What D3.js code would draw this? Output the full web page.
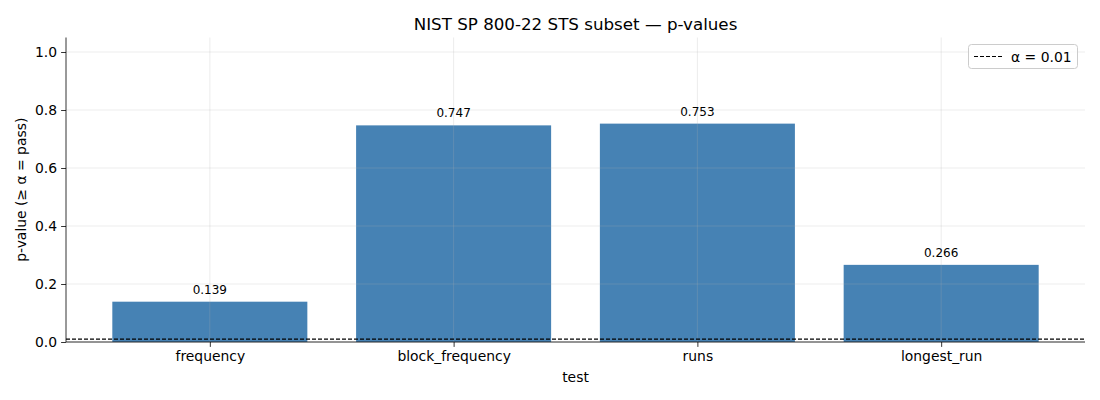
<!DOCTYPE html>
<html><head><meta charset="utf-8">
<script src="https://cdn.jsdelivr.net/npm/d3@7"></script>
<style>body{margin:0;background:#fff;} text{font-family:"DejaVu Sans",sans-serif;}</style>
</head><body>
<svg id="c" width="1100" height="400"></svg>
<script>
const categories = ["frequency","block_frequency","runs","longest_run"];
const pvalues = [0.139, 0.747, 0.753, 0.266];
const valueLabels = ["0.139","0.747","0.753","0.266"];
const yTicks = [0.0,0.2,0.4,0.6,0.8,1.0];
const alpha = 0.01;

const svg = d3.select("#c");
const L=66, R=1085, T=37.5, B=342;
const x = d3.scaleLinear().domain([-0.59,3.59]).range([L,R]);
const y = d3.scaleLinear().domain([0,1.05]).range([B,T]);
const bw = x(0.4)-x(-0.4);

// bars
svg.selectAll("rect.bar").data(pvalues).join("rect")
  .attr("x",(d,i)=>x(i)-bw/2).attr("width",bw)
  .attr("y",d=>y(d)).attr("height",d=>B-y(d))
  .attr("fill","#4682b4");

// grid on top
const g = svg.append("g");
g.selectAll("line.gy").data(yTicks).join("line")
  .attr("x1",L).attr("x2",R).attr("y1",d=>y(d)).attr("y2",d=>y(d))
  .attr("stroke","#b0b0b0").attr("stroke-opacity",0.3).attr("stroke-width",0.8);
g.selectAll("line.gx").data(categories).join("line")
  .attr("x1",(d,i)=>x(i)).attr("x2",(d,i)=>x(i)).attr("y1",T).attr("y2",B)
  .attr("stroke","#b0b0b0").attr("stroke-opacity",0.3).attr("stroke-width",0.8);

// alpha line
svg.append("line").attr("x1",L).attr("x2",R).attr("y1",y(alpha)).attr("y2",y(alpha))
  .attr("stroke","#000").attr("stroke-width",1.1).attr("stroke-dasharray","4,2");

// value labels
svg.selectAll("text.vl").data(pvalues).join("text")
  .attr("x",(d,i)=>x(i)).attr("y",d=>y(d)-8)
  .attr("text-anchor","middle").attr("font-size","12px").attr("fill","#000")
  .text((d,i)=>valueLabels[i]);

// axes
const yAxis = d3.axisLeft(y).tickValues(yTicks).tickFormat(d3.format(".1f")).tickSize(4.9).tickPadding(4);
const ya = svg.append("g").attr("transform",`translate(${L},0)`).call(yAxis);
const xAxis = d3.axisBottom(x).tickValues([0,1,2,3]).tickFormat((d)=>categories[d]).tickSize(4.9).tickPadding(4);
const xa = svg.append("g").attr("transform",`translate(0,${B})`).call(xAxis);
[ya,xa].forEach(a=>{
  a.selectAll("text").attr("font-size","13.9px").attr("fill","#000").style("font-family","DejaVu Sans");
  a.selectAll("line").attr("stroke","#000").attr("stroke-width",0.8);
  a.select(".domain").remove();
});
svg.append("line").attr("x1",L).attr("x2",L).attr("y1",T).attr("y2",B).attr("stroke","#000").attr("stroke-width",0.8);
svg.append("line").attr("x1",L).attr("x2",R).attr("y1",B).attr("y2",B).attr("stroke","#000").attr("stroke-width",0.8);

// titles
svg.append("text").attr("x",(L+R)/2).attr("y",30).attr("text-anchor","middle")
  .attr("font-size","16.7px").text("NIST SP 800-22 STS subset — p-values");
svg.append("text").attr("x",(L+R)/2).attr("y",382).attr("text-anchor","middle")
  .attr("font-size","13.9px").text("test");
svg.append("text").attr("transform",`translate(26,${(T+B)/2}) rotate(-90)`).attr("text-anchor","middle")
  .attr("font-size","13.9px").text("p-value (≥ α = pass)");

// legend
const lg = svg.append("g");
lg.append("rect").attr("x",968.5).attr("y",44.5).attr("width",109).attr("height",24).attr("rx",3)
  .attr("fill","#fff").attr("fill-opacity",0.8).attr("stroke","#ccc").attr("stroke-width",1);
lg.append("line").attr("x1",974).attr("x2",1002).attr("y1",56.5).attr("y2",56.5)
  .attr("stroke","#000").attr("stroke-width",1.1).attr("stroke-dasharray","4,2");
lg.append("text").attr("x",1011).attr("y",61.5).attr("font-size","13.9px").text("α = 0.01");
</script>
</body></html>
